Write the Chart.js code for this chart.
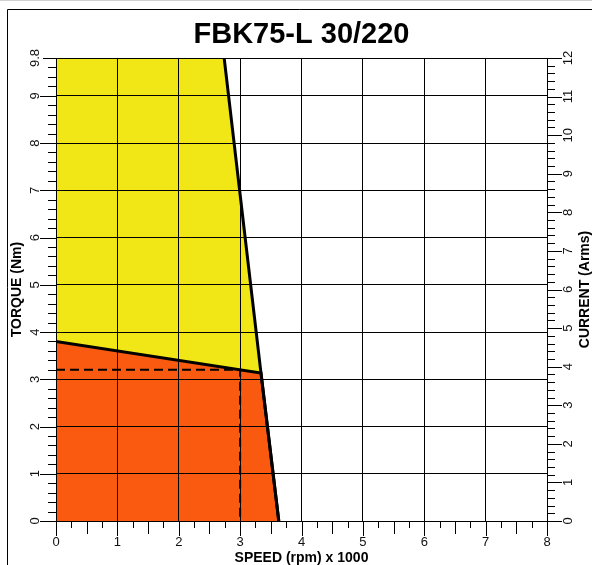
<!DOCTYPE html>
<html lang="en">
<head>
<meta charset="UTF-8"/>
<title>FBK75-L 30/220</title>
<script src="https://cdn.jsdelivr.net/npm/chart.js@4.4.0/dist/chart.umd.min.js"></script>
<style>
  html, body { margin: 0; padding: 0; background: #fff; }
  #wrap { width: 592px; height: 565px; }
</style>
</head>
<body>
<div id="wrap"><canvas id="chart" width="592" height="565"></canvas></div>
<script>
// speed is rpm x 1000, torque is Nm
const peakAreaSpeed = [0, 2.74, 3.34, 3.63];
const peakAreaTorque = [9.8, 9.8, 3.13, 0];
const peakSpeed = [2.74, 3.34, 3.63];
const peakTorque = [9.8, 3.13, 0];
const contSpeed = [0, 3.34, 3.63];
const contTorque = [3.8, 3.13, 0];
const ratedSpeed = [0, 3, 3];
const ratedTorque = [3.2, 3.2, 0];

const speedMax = 8;
const torqueMax = 9.8;
const currentMax = 12;

const FONT = "'Liberation Sans', Arial, sans-serif";
Chart.defaults.font.family = FONT;

const toPoints = (xs, ys) => xs.map((x, i) => ({ x: x, y: ys[i] }));
const isWhole = v => Math.abs(v - Math.round(v)) < 1e-6;
const isTop = v => Math.abs(v - torqueMax) < 1e-6;

// white page, outer frame, tick marks and right axis title
const extras = {
    id: 'extras',
    beforeDraw(chart) {
        const ctx = chart.ctx;
        ctx.save();
        ctx.fillStyle = '#fff';
        ctx.fillRect(0, 0, chart.width, chart.height);
        ctx.strokeStyle = '#d0d0d0';
        ctx.beginPath();
        ctx.moveTo(0, 0.5); ctx.lineTo(chart.width, 0.5);
        ctx.stroke();
        ctx.strokeStyle = '#000';
        ctx.beginPath();
        ctx.moveTo(7.5, chart.height); ctx.lineTo(7.5, 9.5); ctx.lineTo(chart.width, 9.5);
        ctx.stroke();
        ctx.restore();
    },
    afterDraw(chart) {
        const ctx = chart.ctx;
        const { x, y, y2 } = chart.scales;
        ctx.save();
        ctx.strokeStyle = '#000';
        ctx.lineWidth = 1;
        ctx.beginPath();
        x.ticks.forEach(t => {
            const px = Math.round(x.getPixelForValue(t.value)) + 0.5;
            const len = isWhole(t.value) ? 15 : (isWhole(t.value * 2) ? 13 : 7);
            ctx.moveTo(px, x.top); ctx.lineTo(px, x.top + len);
        });
        y.ticks.forEach(t => {
            const py = Math.round(y.getPixelForValue(t.value)) + 0.5;
            const len = isTop(t.value) ? 13 : (isWhole(t.value) ? 16 : 8);
            ctx.moveTo(y.right, py); ctx.lineTo(y.right - len, py);
        });
        y2.ticks.forEach(t => {
            const py = Math.round(y2.getPixelForValue(t.value)) + 0.5;
            const len = isWhole(t.value) ? 15 : 8;
            ctx.moveTo(y2.left, py); ctx.lineTo(y2.left + len, py);
        });
        ctx.stroke();

        const area = chart.chartArea;
        ctx.translate(585, (area.top + area.bottom) / 2);
        ctx.rotate(-Math.PI / 2);
        ctx.fillStyle = '#000';
        ctx.font = 'bold 14px ' + FONT;
        ctx.textAlign = 'center';
        ctx.textBaseline = 'middle';
        ctx.fillText('CURRENT (Arms)', 0, 0);
        ctx.restore();
    }
};

const ctx = document.getElementById('chart').getContext('2d');

new Chart(ctx, {
    type: 'scatter',
    data: {
        datasets: [
            {
                label: 'Rated point',
                data: toPoints(ratedSpeed, ratedTorque),
                showLine: true,
                borderColor: '#000',
                borderWidth: 2,
                borderDash: [9, 5],
                pointRadius: 0,
                fill: false
            },
            {
                label: 'Peak limit',
                data: toPoints(peakSpeed, peakTorque),
                showLine: true,
                borderColor: '#000',
                borderWidth: 3,
                pointRadius: 0,
                fill: false
            },
            {
                label: 'Continuous',
                data: toPoints(contSpeed, contTorque),
                showLine: true,
                borderColor: '#000',
                borderWidth: 3,
                backgroundColor: '#fa5a0f',
                pointRadius: 0,
                fill: 'origin'
            },
            {
                label: 'Peak',
                data: toPoints(peakAreaSpeed, peakAreaTorque),
                showLine: true,
                borderWidth: 0,
                borderColor: 'rgba(0,0,0,0)',
                backgroundColor: '#f1e616',
                pointRadius: 0,
                fill: 'origin'
            }
        ]
    },
    options: {
        responsive: false,
        animation: false,
        layout: { padding: 0 },
        plugins: {
            legend: { display: false },
            tooltip: { enabled: false },
            title: {
                display: true,
                text: 'FBK75-L 30/220',
                color: '#000',
                fullSize: false,
                font: { size: 29, weight: 'bold' },
                padding: { top: 18, bottom: 5.2 }
            }
        },
        scales: {
            x: {
                type: 'linear',
                position: 'bottom',
                min: 0,
                max: speedMax,
                afterFit: s => { s.height = 44; },
                grid: {
                    z: 1,
                    drawTicks: false,
                    color: c => isWhole(c.tick.value) ? '#000' : 'rgba(0,0,0,0)'
                },
                border: { display: true, color: '#000', width: 1, z: 1 },
                ticks: {
                    stepSize: 0.25,
                    autoSkip: false,
                    maxRotation: 0,
                    minRotation: 0,
                    padding: 14,
                    color: '#111',
                    font: { size: 13 },
                    callback: v => isWhole(v) ? String(Math.round(v)) : ''
                },
                title: {
                    display: true,
                    text: 'SPEED (rpm) x 1000',
                    color: '#000',
                    font: { size: 14, weight: 'bold', lineHeight: 1 },
                    padding: { top: 0, bottom: 0 }
                }
            },
            y: {
                type: 'linear',
                position: 'left',
                min: 0,
                max: torqueMax,
                afterFit: s => { s.width = 56; },
                grid: {
                    z: 1,
                    drawTicks: false,
                    color: c => (isWhole(c.tick.value) || isTop(c.tick.value)) ? '#000' : 'rgba(0,0,0,0)'
                },
                border: { display: true, color: '#000', width: 1, z: 1 },
                ticks: {
                    stepSize: 0.2,
                    autoSkip: false,
                    minRotation: 90,
                    maxRotation: 90,
                    crossAlign: 'center',
                    padding: 12,
                    color: '#111',
                    font: { size: 13 },
                    callback: v => isTop(v) ? '9.8' : (isWhole(v) ? String(Math.round(v)) : '')
                },
                title: {
                    display: true,
                    text: 'TORQUE (Nm)',
                    color: '#000',
                    font: { size: 14, weight: 'bold', lineHeight: 1 },
                    padding: { top: 10, bottom: 0 }
                }
            },
            y2: {
                type: 'linear',
                position: 'right',
                min: 0,
                max: currentMax,
                afterFit: s => { s.width = 45; },
                grid: { drawTicks: false, drawOnChartArea: false },
                border: { display: true, color: '#000', width: 1, z: 1 },
                ticks: {
                    stepSize: 0.2,
                    autoSkip: false,
                    minRotation: 90,
                    maxRotation: 90,
                    crossAlign: 'center',
                    padding: 14,
                    color: '#111',
                    font: { size: 13 },
                    callback: v => isWhole(v) ? String(Math.round(v)) : ''
                }
            }
        }
    },
    plugins: [extras]
});
</script>
</body>
</html>
